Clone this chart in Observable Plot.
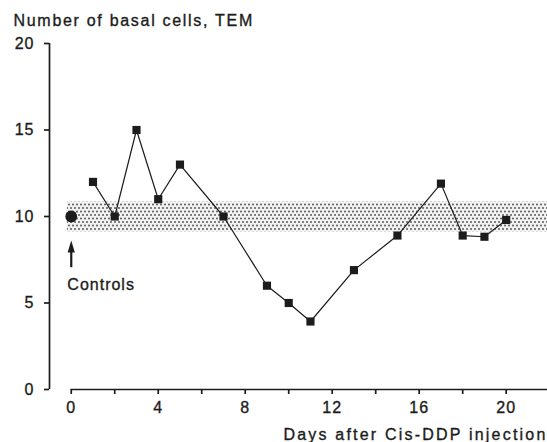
<!DOCTYPE html>
<html><head><meta charset="utf-8">
<script src="https://cdn.jsdelivr.net/npm/d3@7"></script>
<script src="https://cdn.jsdelivr.net/npm/@observablehq/plot@0.6"></script>
<style>
body{margin:0;background:#fff}
svg text{letter-spacing:1px; stroke:#1c1c1c; stroke-width:0.35px}
</style>
</head><body><div id="chart"></div>
<script>
// Data
const days  = [1, 2, 3, 4, 5, 7, 9, 10, 11, 13, 15, 17, 18, 19, 20];
const cells = [12, 10, 15, 11, 13, 10, 6, 5, 3.93, 6.9, 8.9, 11.9, 8.9, 8.83, 9.8];
const controlDay = [0];
const controlValue = [10];
const bandLow = [9.1];
const bandHigh = [10.83];
const yTicks = [0, 5, 10, 15, 20];
const xTicks = [0, 2, 4, 6, 8, 10, 12, 14, 16, 18, 20];
const xLabelTicks = [0, 4, 8, 12, 16, 20];
const titleText = ["Number of basal cells, TEM"];
const xAxisText = ["Days after Cis-DDP injection"];
const controlText = ["Controls"];

const series = days.map((d, i) => ({day: d, cells: cells[i]}));
const controls = controlDay.map((d, i) => ({day: d, cells: controlValue[i]}));
const band = bandLow.map((lo, i) => ({lo, hi: bandHigh[i]}));
const ink = "#1c1c1c";

const arrowHead = {
  draw(ctx) {
    ctx.moveTo(0, -6);
    ctx.lineTo(3.6, 6);
    ctx.lineTo(-3.6, 6);
    ctx.closePath();
  }
};

const plot = Plot.plot({
  width: 547, height: 442,
  marginLeft: 49, marginRight: 0, marginTop: 43, marginBottom: 53,
  x: {domain: [-1, 21.9]},
  y: {domain: [0, 20]},
  style: {fontFamily: "'Liberation Sans', Arial, sans-serif", fontSize: "16px", color: ink, background: "white", overflow: "visible"},
  marks: [
    Plot.rect(band, {x1: -0.18, x2: 21.9, y1: "lo", y2: "hi", fill: "url(#dotpat)"}),
    Plot.ruleX([-1], {y1: 0, y2: 20, stroke: ink, strokeWidth: 1.7}),
    Plot.ruleY([0], {x1: 0, x2: 21.9, stroke: ink, strokeWidth: 1.7}),
    Plot.axisY({ticks: yTicks, tickSize: 5, tickPadding: 10, label: null, anchor: "left", strokeWidth: 1.7}),
    Plot.axisX({ticks: xTicks, tickSize: 5, tickPadding: 7, label: null, anchor: "bottom", strokeWidth: 1.7,
      tickFormat: d => xLabelTicks.includes(d) ? String(d) : ""}),
    Plot.line(series, {x: "day", y: "cells", stroke: ink, strokeWidth: 1.2}),
    Plot.dot(series, {x: "day", y: "cells", symbol: "square", r: 4.6, fill: ink, stroke: "none"}),
    Plot.dot(controls, {x: "day", y: "cells", r: 5.9, fill: ink, stroke: "none"}),
    Plot.link(controls, {x1: "day", x2: "day", y1: 7.07, y2: 8.05, stroke: ink, strokeWidth: 2.2}),
    Plot.dot(controls, {x: "day", y: 8.27, symbol: arrowHead, fill: ink, stroke: "none"}),
    Plot.text(controlText, {x: -0.18, y: 6.07, textAnchor: "start", lineAnchor: "middle", fill: ink}),
    Plot.text(titleText, {frameAnchor: "top-left", dx: -36, dy: -23, textAnchor: "start", lineAnchor: "middle", fill: ink}),
    Plot.text(xAxisText, {frameAnchor: "bottom-right", dx: 0, dy: 45, textAnchor: "end", lineAnchor: "middle", fill: ink})
  ]
});

// dotted (stippled) fill pattern for the control band
const svg = d3.select(plot);
const defs = svg.insert("defs", ":first-child");
const pat = defs.append("pattern").attr("id", "dotpat").attr("patternUnits", "userSpaceOnUse")
  .attr("width", 8).attr("height", 7);
pat.append("rect").attr("width", 8).attr("height", 7).attr("fill", "#f2f2f2");
[[1,1.5],[5,1.5],[3,5],[7,5]].forEach(([cx, cy]) =>
  pat.append("circle").attr("cx", cx).attr("cy", cy).attr("r", 0.9).attr("fill", "#4a4a4a"));

// per-label letter spacing to match the reference's wide typesetting
svg.selectAll("text").each(function() {
  const t = this.textContent;
  if (t === titleText[0]) this.style.letterSpacing = "1.7px";
  if (t === xAxisText[0]) this.style.letterSpacing = "2.2px";
});

document.getElementById("chart").append(plot);
</script>
</body></html>
